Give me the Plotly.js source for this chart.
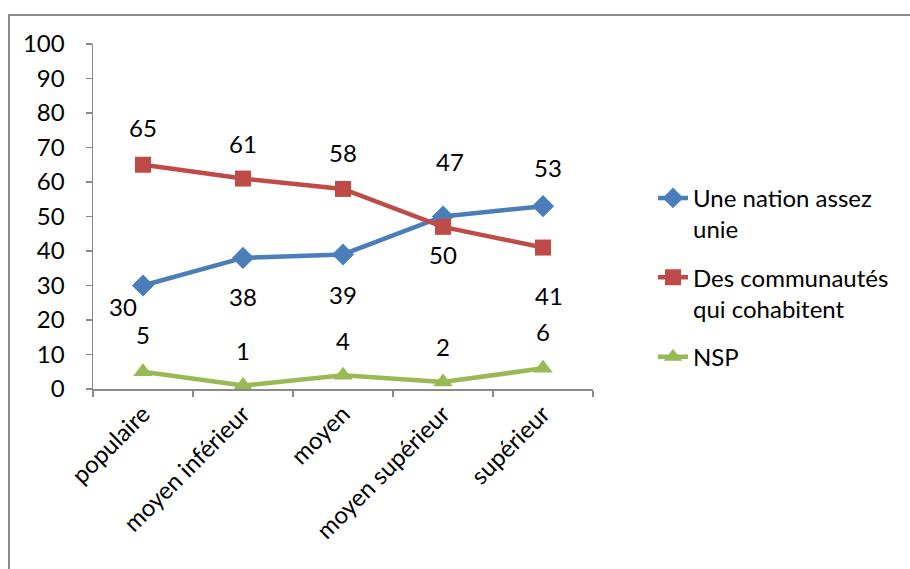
<!DOCTYPE html>
<html>
<head>
<meta charset="utf-8">
<script src="https://cdn.plot.ly/plotly-3.0.1.min.js"></script>
<style>
  html, body { margin: 0; padding: 0; background: #fff; }
  #wrap { position: relative; width: 910px; height: 569px; overflow: hidden; }
  #frame { position: absolute; left: 8px; top: 14px; width: 920px; height: 600px; border: 2px solid #898989; box-sizing: border-box; }
  #chart { position: absolute; left: 0; top: 0; width: 910px; height: 569px; }
</style>
</head>
<body>
<div id="wrap">
  <div id="frame"></div>
  <div id="chart"></div>
</div>
<script>
const categories = ["populaire", "moyen inférieur", "moyen", "moyen supérieur", "supérieur"];
const seriesNames = ["Une nation assez<br>unie", "Des communautés<br>qui cohabitent", "NSP"];
const nationUnie = [30, 38, 39, 50, 53];
const communautes = [65, 61, 58, 47, 41];
const nsp = [5, 1, 4, 2, 6];
const yTicks = [0, 10, 20, 30, 40, 50, 60, 70, 80, 90, 100];

// label placement (styling only): pixel offsets relative to each point
const labelShiftY = [
  [-21, -39, -40, -38, 39],
  [37, 35, 36, 65, -48],
  [37, 35, 35, 36, 37]
];
const labelShiftX = [
  [-20, 0, 0, 0, 5],
  [0, 0, 0, 7, 6],
  [0, 0, 0, 0, 0]
];

const FONT = "Lato, 'Open Sans', sans-serif";
const FS = 24;
const colors = ["#4A7EBB", "#BE4B48", "#98B954"];
const symbols = ["diamond", "square", "triangle-up"];
const markerSizes = [17, 16, 17];
const seriesVals = [nationUnie, communautes, nsp];

const traces = seriesVals.map((vals, i) => ({
  type: "scatter",
  mode: "lines+markers",
  name: seriesNames[i],
  legendgroup: "g" + i,
  x: categories,
  y: vals,
  line: { color: colors[i], width: 4.5 },
  marker: { color: colors[i], symbol: symbols[i], size: markerSizes[i] },
  cliponaxis: false,
  hoverinfo: "skip"
}));

const annotations = [];
seriesVals.forEach((vals, i) => {
  vals.forEach((v, j) => {
    annotations.push({
      x: categories[j], y: v, xref: "x", yref: "y",
      text: String(v), showarrow: false,
      xshift: labelShiftX[i][j], yshift: labelShiftY[i][j],
      font: { family: FONT, size: FS, color: "#000" }
    });
  });
});

const layout = {
  width: 910, height: 569,
  paper_bgcolor: "rgba(0,0,0,0)",
  plot_bgcolor: "rgba(0,0,0,0)",
  margin: { l: 93, r: 317, t: 44, b: 180, pad: 0 },
  font: { family: FONT, size: FS, color: "#000" },
  showlegend: true,
  legend: {
    x: 1.12, y: 0.618, xanchor: "left", yanchor: "top",
    font: { family: FONT, size: FS, color: "#000" },
    traceorder: "grouped",
    tracegroupgap: 14,
    valign: "top",
    bgcolor: "rgba(0,0,0,0)"
  },
  xaxis: {
    type: "category",
    range: [-0.5, 4.5],
    showgrid: false, zeroline: false,
    showline: true, linecolor: "#898989", linewidth: 1.5,
    ticks: "outside", ticklen: 6, tickcolor: "#898989", tickwidth: 1.5,
    tickson: "boundaries",
    tickangle: -45,
    tickfont: { family: FONT, size: FS, color: "#000" },
    fixedrange: true
  },
  yaxis: {
    range: [0, 100],
    tickvals: yTicks,
    ticktext: yTicks.map(String),
    showgrid: false, zeroline: false,
    showline: true, linecolor: "#898989", linewidth: 1.5,
    ticks: "outside", ticklen: 6, tickcolor: "#898989", tickwidth: 1.5,
    ticklabelstandoff: 16,
    tickfont: { family: FONT, size: FS, color: "#000" },
    fixedrange: true
  },
  annotations: annotations
};

Plotly.newPlot("chart", traces, layout, { displayModeBar: false, staticPlot: true });
</script>
</body>
</html>
